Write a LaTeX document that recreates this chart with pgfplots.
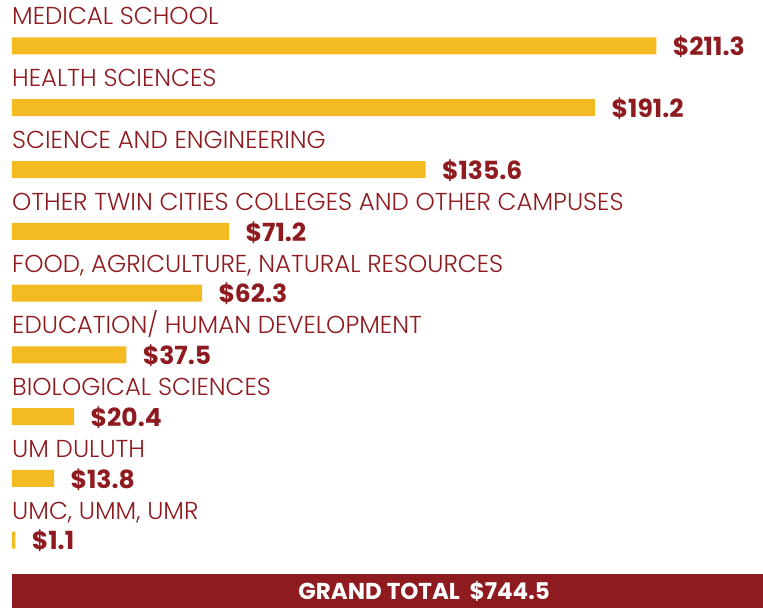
\documentclass[border=0pt]{standalone}
\usepackage{fontspec}
\setmainfont{Poppins}
\newfontfamily\lightfont{Poppins Light}
\usepackage{pgfplots}
\pgfplotsset{compat=1.18}
\definecolor{gold}{HTML}{F3BA21}
\definecolor{maroon}{HTML}{8E1B1F}
\begin{document}
\begin{tikzpicture}
\begin{axis}[
  scale only axis, width=763bp, height=608bp,
  xmin=-3.934, xmax=246.23, ymin=0, ymax=608, y dir=reverse,
  hide axis, clip=false,
  xbar, bar width=17bp,
  point meta=x,
  nodes near coords={\$\pgfmathprintnumber[fixed,precision=1,fixed zerofill,assume math mode=true]{\pgfplotspointmeta}},
  nodes near coords style={anchor=west, xshift=13bp, text=maroon, text depth=0pt, font=\fontsize{25bp}{28bp}\selectfont\bfseries},
]
\addplot[draw=none, fill=gold] coordinates {
 (211.3,46) (191.2,107.75) (135.6,169.5) (71.2,231.25) (62.3,293)
 (37.5,354.75) (20.4,416.5) (13.8,478.25) (1.1,540)
};
\path (rel axis cs:0,0) rectangle (rel axis cs:1,1);
\foreach \yy/\txt in {46/{MEDICAL SCHOOL}, 107.75/{HEALTH SCIENCES}, 169.5/{SCIENCE AND ENGINEERING}, 231.25/{OTHER TWIN CITIES COLLEGES AND OTHER CAMPUSES}, 293/{FOOD, AGRICULTURE, NATURAL RESOURCES}, 354.75/{EDUCATION/ HUMAN DEVELOPMENT}, 416.5/{BIOLOGICAL SCIENCES}, 478.25/{UM DULUTH}, 540/{UMC, UMM, UMR}}{
  \edef\temp{\noexpand\node[anchor=base west, inner sep=0pt, text=maroon, font=\noexpand\lightfont\noexpand\fontsize{24.5bp}{28bp}\noexpand\selectfont] at (axis cs:0,\yy-21) {\txt};}
  \temp
}
\fill[maroon] (axis cs:0,574) rectangle (axis cs:246.23,608);
\node[text=white, inner sep=0pt, anchor=base, font=\fontsize{23bp}{26bp}\selectfont\bfseries] at (axis cs:135.1,599) {GRAND TOTAL\ \ \$744.5};
\end{axis}
\end{tikzpicture}
\end{document}
